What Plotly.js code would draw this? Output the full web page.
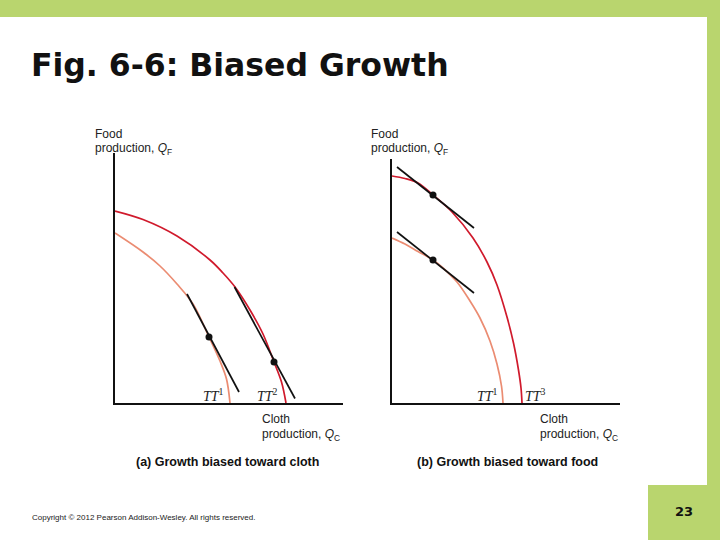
<!DOCTYPE html>
<html><head><meta charset="utf-8">
<script src="https://cdn.plot.ly/plotly-3.0.1.min.js"></script>
<style>html,body{margin:0;padding:0;background:#fff}#chart{width:720px;height:540px}</style>
</head><body><div id="chart"></div>
<script>
// Panel (a): growth biased toward cloth (x = cloth, y = food)
const tt1A_cloth = [0, 2.8, 4.5, 6.2, 7.8, 9.4, 10.5, 11.15, 11.5];
const tt1A_food  = [17.0, 15.1, 13.7, 11.9, 9.9, 6.6, 4.2, 2.4, 0];
const tt2A_cloth = [0, 2.8, 6.2, 9.5, 10.8, 12.0, 13.5, 14.8, 15.9, 16.65, 17.1];
const tt2A_food  = [19.2, 18.35, 16.7, 14.3, 13.0, 11.6, 9.3, 6.9, 4.1, 2.1, 0];
const tangentA1_cloth = [7.2, 12.4];
const tangentA1_food  = [10.9, 1.1];
const tangentA2_cloth = [11.95, 18.0];
const tangentA2_food  = [11.6, 0.45];
const pointsA_cloth = [9.4, 15.9];
const pointsA_food  = [6.6, 4.1];
// Panel (b): growth biased toward food
const tt1B_cloth = [0, 1.3, 2.6, 4.1, 5.1, 6.5, 7.8, 8.8, 9.8, 10.5, 10.95, 11.1];
const tt1B_food  = [16.5, 15.9, 15.15, 14.3, 13.5, 12.1, 10.2, 8.5, 6.2, 3.9, 1.7, 0];
const tt3B_cloth = [0, 1.3, 2.6, 4.1, 6.0, 8.1, 9.5, 10.5, 11.5, 12.15, 12.65, 12.9, 13.0];
const tt3B_food  = [22.7, 22.45, 22.0, 20.8, 19.1, 16.5, 14.1, 11.8, 8.6, 6.0, 3.3, 1.5, 0];
const tangentB1_cloth = [0.5, 8.2];
const tangentB1_food  = [17.1, 11.0];
const tangentB3_cloth = [0.5, 8.2];
const tangentB3_food  = [23.6, 17.5];
const pointsB_cloth = [4.1, 4.1];
const pointsB_food  = [14.3, 20.8];

const RED = '#d01a2c', SALMON = '#eb8c72', GREEN = '#b9d56e';
const px = x => x / 720, py = y => 1 - y / 540;

function curve(x, y, color, xa, ya, shape) {
  return {x, y, xaxis: xa, yaxis: ya, mode: 'lines', hoverinfo: 'skip',
    line: {color, width: 1.7, shape: shape || 'spline', smoothing: 1.0}};
}
function dots(x, y, xa, ya) {
  return {x, y, xaxis: xa, yaxis: ya, mode: 'markers', hoverinfo: 'skip',
    marker: {color: '#111', size: 7}};
}
const traces = [
  curve(tt1A_cloth, tt1A_food, SALMON, 'x', 'y'),
  curve(tt2A_cloth, tt2A_food, RED, 'x', 'y'),
  curve(tangentA1_cloth, tangentA1_food, '#111', 'x', 'y', 'linear'),
  curve(tangentA2_cloth, tangentA2_food, '#111', 'x', 'y', 'linear'),
  dots(pointsA_cloth, pointsA_food, 'x', 'y'),
  curve(tt1B_cloth, tt1B_food, SALMON, 'x2', 'y2'),
  curve(tt3B_cloth, tt3B_food, RED, 'x2', 'y2'),
  curve(tangentB1_cloth, tangentB1_food, '#111', 'x2', 'y2', 'linear'),
  curve(tangentB3_cloth, tangentB3_food, '#111', 'x2', 'y2', 'linear'),
  dots(pointsB_cloth, pointsB_food, 'x2', 'y2')
];

const axBase = {showgrid: false, zeroline: false, showticklabels: false, ticks: '',
  showline: true, linecolor: '#111', linewidth: 2, fixedrange: true};

const lab = {family: 'Liberation Sans, Arial, sans-serif', size: 12, color: '#222'};
const capF = {family: 'Liberation Sans, Arial, sans-serif', size: 12.5, color: '#111'};
const ttF = {family: 'Liberation Serif, Times New Roman, serif', size: 14, color: '#222'};
function ann(text, x, y, font, xanchor) {
  return {text, x: px(x), y: py(y), xref: 'paper', yref: 'paper', showarrow: false,
    xanchor: xanchor || 'left', yanchor: 'middle', align: 'left', font};
}
const annotations = [
  ann('<b>Fig. 6-6: Biased Growth</b>', 29, 65, {family: 'DejaVu Sans, Verdana, sans-serif', size: 31.5, color: '#111'}),
  ann('Food', 93, 134, lab), ann('production, <i>Q</i><sub>F</sub>', 93, 149, lab),
  ann('Food', 369, 134, lab), ann('production, <i>Q</i><sub>F</sub>', 369, 149, lab),
  ann('Cloth', 260, 419, lab), ann('production, <i>Q</i><sub>C</sub>', 260, 435, lab),
  ann('Cloth', 538, 419, lab), ann('production, <i>Q</i><sub>C</sub>', 538, 435, lab),
  ann('<b>(a) Growth biased toward cloth</b>', 227, 462, capF, 'center'),
  ann('<b>(b) Growth biased toward food</b>', 507, 462, capF, 'center'),
  ann('<i>TT</i><sup>1</sup>', 213, 395, ttF, 'center'),
  ann('<i>TT</i><sup>2</sup>', 267, 395, ttF, 'center'),
  ann('<i>TT</i><sup>1</sup>', 487, 395, ttF, 'center'),
  ann('<i>TT</i><sup>3</sup>', 535, 395, ttF, 'center'),
  ann('Copyright © 2012 Pearson Addison-Wesley. All rights reserved.', 30, 517,
      {family: 'Liberation Sans, Arial, sans-serif', size: 8, color: '#222'}),
  ann('<b>23</b>', 684, 511, {family: 'DejaVu Sans, Verdana, sans-serif', size: 13, color: '#111'}, 'center')
];

const shapes = [
  {type: 'rect', xref: 'paper', yref: 'paper', x0: 0, x1: 1, y0: py(17), y1: 1, fillcolor: GREEN, line: {width: 0}, layer: 'below'},
  {type: 'rect', xref: 'paper', yref: 'paper', x0: px(707), x1: 1, y0: py(485), y1: py(17), fillcolor: GREEN, line: {width: 0}, layer: 'below'},
  {type: 'rect', xref: 'paper', yref: 'paper', x0: px(648), x1: 1, y0: 0, y1: py(485), fillcolor: GREEN, line: {width: 0}, layer: 'below'}
];

const layout = {
  width: 720, height: 540, margin: {l: 0, r: 0, t: 0, b: 0},
  paper_bgcolor: '#fff', plot_bgcolor: 'rgba(0,0,0,0)', showlegend: false,
  xaxis: Object.assign({}, axBase, {domain: [px(115), px(343)], range: [0, 22.8], anchor: 'y'}),
  yaxis: Object.assign({}, axBase, {domain: [py(403), py(153)], range: [0, 25], anchor: 'x'}),
  xaxis2: Object.assign({}, axBase, {domain: [px(392), px(620)], range: [0, 22.8], anchor: 'y2'}),
  yaxis2: Object.assign({}, axBase, {domain: [py(403), py(159)], range: [0, 24.4], anchor: 'x2'}),
  annotations, shapes
};
Plotly.newPlot('chart', traces, layout, {staticPlot: true, displayModeBar: false});
</script></body></html>
